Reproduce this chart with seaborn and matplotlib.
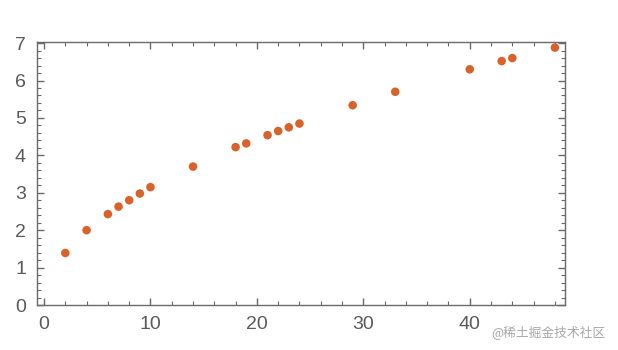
import matplotlib
matplotlib.use("Agg")
import matplotlib.pyplot as plt
import seaborn as sns
import pandas as pd
from matplotlib.ticker import MultipleLocator

x_vals = [2, 4, 6, 7, 8, 9, 10, 14, 18, 19, 21, 22, 23, 24, 29, 33, 40, 43, 44, 48]
y_vals = [1.39, 2.0, 2.43, 2.63, 2.8, 2.98, 3.15, 3.7, 4.22, 4.32, 4.54, 4.65,
          4.75, 4.85, 5.34, 5.7, 6.3, 6.52, 6.6, 6.88]
watermark = "@稀土掘金技术社区"

sns.set_style("ticks")
plt.rcParams['font.family'] = ['Liberation Sans', 'DejaVu Sans']

df = pd.DataFrame({"x": x_vals, "y": y_vals})

fig = plt.figure(figsize=(6.18, 3.5), dpi=100)
ax = fig.add_axes([37/618, 1-305/350, (565-37)/618, (305-42)/350])
sns.scatterplot(data=df, x="x", y="y", ax=ax, color="#D9622B", s=38,
                edgecolor="none", linewidth=0)

ax.set_xlim(-0.66, 48.95)
ax.set_ylim(0, 7.03)
ax.xaxis.set_major_locator(MultipleLocator(10))
ax.xaxis.set_minor_locator(MultipleLocator(2))
ax.yaxis.set_major_locator(MultipleLocator(1))
ax.yaxis.set_minor_locator(MultipleLocator(0.2))
ax.set_xlabel("")
ax.set_ylabel("")

frame_c = "#6a6a6a"
for sp in ax.spines.values():
    sp.set_color(frame_c)
    sp.set_linewidth(1.0)
    sp.set_visible(True)
ax.tick_params(which="both", direction="in", top=True, right=True,
               color=frame_c, labelcolor="#5a5a5a", labelsize=14)
ax.tick_params(which="major", length=5, width=1.0)
ax.tick_params(which="minor", length=3, width=0.8)
ax.tick_params(axis="x", pad=8)
ax.tick_params(axis="y", pad=8)

fig.text(605/618, 1-332/350, watermark, ha="right", va="center", fontsize=9.2,
         color="#a8a8a8", family=["Noto Sans CJK SC", "DejaVu Sans"])

fig.savefig("out.png", dpi=100)
